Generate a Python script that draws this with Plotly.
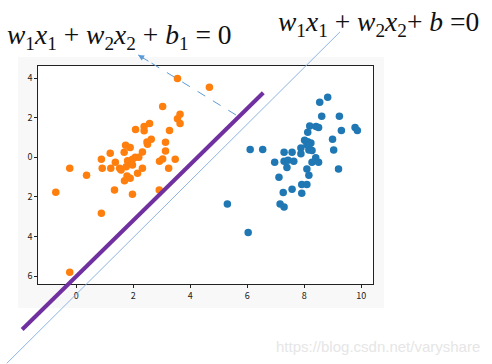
import plotly.graph_objects as go

W, H = 492, 364

# ---- data ----
orange_x = [3.55, 3.03, 3.64, 3.55, 3.64, 2.57, 2.38, 2.08, 2.38, 3.27,
            2.63, 2.48, 3.13, 2.50, 1.73, 1.89, 1.19, 1.68, 2.32, 3.13,
            0.88, 2.07, 2.19, 1.97, 1.80, 3.03, 2.92, 3.47, -0.23, 0.91,
            1.21, 1.37, 1.52, 1.57, 1.75, 1.97, 2.32, 3.24, 2.15, 0.36,
            1.78, 1.89, 1.69, 1.34, 2.91, 1.97, -0.72, 0.88, -0.23, 4.67]
orange_y = [3.98, 2.57, 2.17, 1.95, 1.71, 1.71, 1.55, 1.41, 1.34, 1.36,
            0.91, 0.77, 0.76, 0.66, 0.61, 0.50, 0.20, 0.25, 0.27, 0.32,
            -0.10, 0.00, 0.00, -0.10, -0.17, -0.08, -0.20, -0.10, -0.55, -0.55,
            -0.55, -0.25, -0.55, -0.64, -0.47, -0.39, -0.55, -0.55, -0.81, -0.91,
            -0.94, -1.06, -1.18, -1.65, -1.65, -1.87, -1.76, -2.82, -5.80, 3.54]

blue_x = [8.82, 8.54, 8.61, 9.23, 8.19, 8.41, 8.50, 8.12, 9.30, 9.78,
          9.86, 8.99, 8.01, 8.12, 8.23, 8.09, 7.88, 7.88, 8.16, 8.27,
          8.16, 6.10, 6.54, 7.29, 7.57, 9.03, 6.96, 7.29, 7.43, 7.63,
          7.39, 8.40, 8.27, 8.50, 8.09, 9.20, 8.16, 7.11, 7.91, 8.09,
          7.57, 7.26, 7.91, 7.15, 7.29, 5.30, 6.03]
blue_y = [3.03, 2.78, 2.07, 2.07, 1.58, 1.56, 1.51, 1.26, 1.36, 1.51,
          1.36, 0.91, 0.86, 0.79, 0.72, 0.64, 0.47, 0.18, 0.37, 0.35,
          0.59, 0.40, 0.40, 0.25, 0.25, 0.37, -0.25, -0.20, -0.15, -0.20,
          -0.51, -0.02, -0.25, -0.25, -0.59, -0.59, -0.91, -1.01, -1.37, -1.37,
          -1.61, -1.77, -1.82, -2.36, -2.51, -2.36, -3.79]

x_tickvals = [0, 2, 4, 6, 8, 10]
x_ticktext = ["0", "2", "4", "6", "8", "10"]
y_tickvals = [4, 2, 0, -2, -4, -6]
y_ticktext = ["4", "2", "0", "2", "4", "6"]

# decision lines (data coordinates, extended beyond the axes)
margin_line_x = [-1.90, 6.56]
margin_line_y = [-8.69, 3.26]
hyper_line_x = [-2.44, 9.25]
hyper_line_y = [-10.40, 6.33]
arrow_x = [5.60, 2.17]
arrow_y = [2.14, 5.17]

# ---- layout geometry ----
x_range = [-1.333, 10.42]
y_range = [-6.41, 4.61]
x_dom = [38.3 / W, 373.3 / W]
y_dom = [1 - 284.3 / H, 1 - 66 / H]


def extend(r, d):
    upp = (r[1] - r[0]) / (d[1] - d[0])
    return [r[0] - d[0] * upp, r[1] + (1 - d[1]) * upp]


x2_range = extend(x_range, x_dom)
y2_range = extend(y_range, y_dom)

fig = go.Figure()

fig.add_trace(go.Scatter(x=blue_x, y=blue_y, mode="markers",
                         marker=dict(color="#1f77b4", size=7.5),
                         xaxis="x", yaxis="y", showlegend=False))
fig.add_trace(go.Scatter(x=orange_x, y=orange_y, mode="markers",
                         marker=dict(color="#ff7f0e", size=7.5),
                         xaxis="x", yaxis="y", showlegend=False))

# overlay lines
fig.add_trace(go.Scatter(x=hyper_line_x, y=hyper_line_y, mode="lines",
                         line=dict(color="#8db4e2", width=1),
                         xaxis="x2", yaxis="y2", showlegend=False))
fig.add_trace(go.Scatter(x=margin_line_x, y=margin_line_y, mode="lines",
                         line=dict(color="#7030a0", width=4),
                         xaxis="x2", yaxis="y2", showlegend=False))
fig.add_trace(go.Scatter(x=arrow_x, y=arrow_y, mode="lines",
                         line=dict(color="#5b9bd5", width=1, dash="dash"),
                         xaxis="x2", yaxis="y2", showlegend=False))

ax_back = arrow_x[1] + (arrow_x[0] - arrow_x[1]) * 0.12
ay_back = arrow_y[1] + (arrow_y[0] - arrow_y[1]) * 0.12
fig.add_annotation(x=arrow_x[1], y=arrow_y[1], ax=ax_back, ay=ay_back,
                   xref="x2", yref="y2", axref="x2", ayref="y2",
                   text="", showarrow=True, arrowhead=2, arrowsize=1.2,
                   arrowwidth=1, arrowcolor="#5b9bd5", standoff=0)

serif = "Liberation Serif"
fig.add_annotation(x=5 / W, y=1 - 37 / H, xref="paper", yref="paper",
                   xanchor="left", yanchor="middle", showarrow=False,
                   text="<i>w</i><sub>1</sub><i>x</i><sub>1</sub> + <i>w</i><sub>2</sub><i>x</i><sub>2</sub> + <i>b</i><sub>1</sub> = 0",
                   font=dict(family=serif, size=27.5, color="#111"))
fig.add_annotation(x=276 / W, y=1 - 24 / H, xref="paper", yref="paper",
                   xanchor="left", yanchor="middle", showarrow=False,
                   text="<i>w</i><sub>1</sub><i>x</i><sub>1</sub> + <i>w</i><sub>2</sub><i>x</i><sub>2</sub>+ <i>b</i> =0",
                   font=dict(family=serif, size=27.5, color="#111"))
fig.add_annotation(x=482 / W, y=1 - 346 / H, xref="paper", yref="paper",
                   xanchor="right", yanchor="middle", showarrow=False,
                   text="https://blog.csdn.net/varyshare",
                   font=dict(family="Liberation Sans", size=15, color="#e6e6e6"))

# background panels
fig.add_shape(type="rect", xref="paper", yref="paper", layer="below",
              x0=18 / W, x1=384 / W, y0=1 - 308 / H, y1=1 - 57 / H,
              fillcolor="#f8f8f8", line=dict(width=0))
fig.add_shape(type="rect", xref="paper", yref="paper", layer="below",
              x0=x_dom[0], x1=x_dom[1], y0=y_dom[0], y1=y_dom[1],
              fillcolor="white", line=dict(width=0))

tickfont = dict(family="Noto Sans CJK JP", size=9, color="#222")
fig.update_layout(
    width=W, height=H, margin=dict(l=0, r=0, t=0, b=0),
    paper_bgcolor="white", plot_bgcolor="rgba(0,0,0,0)",
    xaxis=dict(domain=x_dom, range=x_range, tickvals=x_tickvals,
               ticktext=x_ticktext, showgrid=False, zeroline=False,
               showline=True, linecolor="#222", linewidth=1, mirror=True,
               ticks="outside", ticklen=3, tickcolor="#222", tickfont=tickfont,
               anchor="y"),
    yaxis=dict(domain=y_dom, range=y_range, tickvals=y_tickvals,
               ticktext=y_ticktext, showgrid=False, zeroline=False,
               showline=True, linecolor="#222", linewidth=1, mirror=True,
               ticks="outside", ticklen=3, tickcolor="#222", tickfont=tickfont,
               anchor="x"),
    xaxis2=dict(domain=[0, 1], range=x2_range, visible=False, anchor="y2"),
    yaxis2=dict(domain=[0, 1], range=y2_range, visible=False, anchor="x2"),
)

fig.write_html("out.html", config={"displayModeBar": False},
               post_script="document.body.style.margin='0';document.body.style.overflow='hidden';")
